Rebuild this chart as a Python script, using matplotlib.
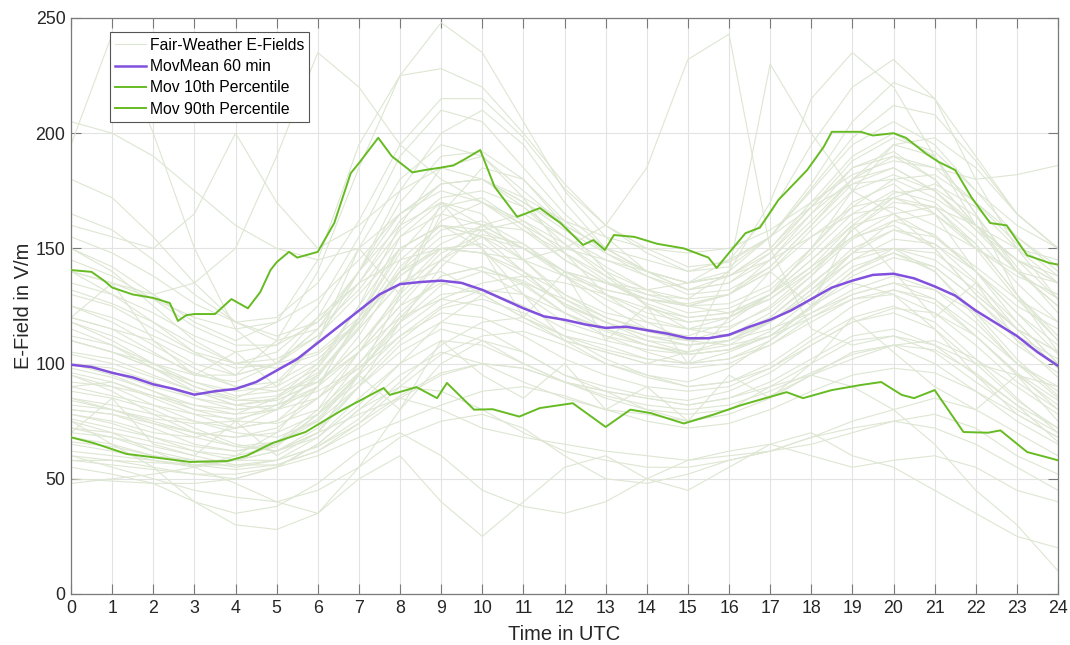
"""Fair-weather E-field daily curves with moving mean and percentiles."""

import matplotlib

matplotlib.use("Agg")
import matplotlib.pyplot as plt  # noqa: E402

FAIR = "#dde6d2"
PURPLE = "#8150dc"
GREEN = "#66bb22"
AXIS = "#7a7a7a"

plt.rcParams["font.family"] = ["Liberation Sans", "DejaVu Sans"]

# hourly samples (0..24 UTC) of the individual fair-weather days, V/m
hours = list(range(25))
fair_days = [
    [100, 95, 88, 80, 78, 85, 100, 125, 150, 160, 155, 140, 125, 118, 112, 110, 115, 125, 140, 155, 160, 150, 130, 115, 105],
    [85, 80, 75, 70, 68, 72, 85, 105, 125, 135, 130, 120, 110, 105, 100, 98, 100, 108, 120, 130, 135, 128, 115, 100, 90],
    [120, 115, 105, 95, 92, 100, 120, 150, 180, 195, 190, 175, 160, 150, 140, 135, 140, 155, 175, 195, 205, 195, 175, 155, 140],
    [70, 68, 62, 58, 55, 58, 68, 85, 100, 110, 108, 100, 92, 88, 85, 82, 85, 92, 102, 112, 115, 108, 95, 82, 72],
    [140, 130, 118, 105, 95, 100, 115, 140, 165, 175, 170, 158, 145, 135, 128, 125, 130, 145, 165, 185, 190, 180, 160, 140, 125],
    [90, 92, 85, 78, 72, 75, 90, 120, 155, 170, 165, 145, 128, 120, 115, 112, 118, 130, 150, 170, 178, 165, 140, 118, 100],
    [60, 58, 55, 52, 50, 55, 65, 80, 95, 105, 100, 92, 85, 80, 78, 75, 78, 85, 95, 105, 108, 100, 88, 75, 65],
    [110, 105, 98, 90, 85, 92, 110, 140, 175, 200, 210, 195, 170, 150, 140, 132, 138, 150, 170, 190, 200, 190, 165, 140, 125],
    [78, 75, 70, 68, 72, 80, 95, 115, 135, 145, 140, 130, 118, 112, 108, 105, 110, 120, 135, 148, 150, 140, 120, 100, 88],
    [130, 125, 115, 105, 100, 102, 112, 130, 150, 160, 155, 145, 138, 132, 128, 126, 130, 140, 155, 168, 172, 165, 150, 138, 130],
    [195, 243, 200, 150, 115, 100, 105, 120, 140, 150, 148, 140, 130, 122, 118, 115, 120, 130, 145, 160, 165, 155, 140, 125, 115],
    [95, 90, 82, 75, 70, 68, 75, 95, 130, 165, 185, 180, 160, 140, 125, 118, 120, 130, 150, 175, 195, 190, 165, 130, 105],
    [65, 62, 58, 55, 60, 70, 90, 120, 150, 160, 150, 130, 110, 100, 95, 92, 98, 110, 125, 135, 130, 115, 95, 78, 68],
    [150, 140, 125, 110, 100, 105, 120, 135, 145, 150, 148, 145, 150, 160, 185, 232, 243, 150, 115, 108, 112, 108, 100, 95, 90],
    [100, 98, 92, 85, 80, 82, 90, 105, 120, 128, 125, 118, 110, 105, 100, 105, 140, 230, 200, 175, 165, 150, 130, 115, 105],
    [120, 115, 110, 100, 95, 100, 115, 140, 160, 170, 160, 150, 140, 135, 130, 128, 140, 170, 215, 235, 220, 190, 160, 140, 125],
    [110, 105, 100, 95, 95, 110, 140, 185, 225, 248, 235, 205, 175, 155, 140, 135, 138, 148, 165, 180, 185, 175, 160, 145, 135],
    [160, 155, 150, 165, 200, 170, 150, 160, 175, 185, 180, 170, 160, 150, 145, 140, 145, 155, 168, 178, 180, 172, 160, 150, 145],
    [140, 135, 130, 135, 150, 190, 235, 220, 195, 180, 170, 160, 150, 145, 140, 135, 138, 145, 155, 165, 168, 160, 150, 140, 135],
    [55, 52, 48, 40, 35, 38, 48, 62, 70, 60, 45, 38, 35, 40, 50, 58, 62, 65, 60, 55, 58, 60, 55, 45, 40],
    [75, 70, 62, 55, 48, 40, 35, 50, 60, 40, 25, 40, 55, 60, 50, 45, 55, 65, 70, 60, 55, 45, 35, 25, 20],
    [80, 78, 72, 65, 62, 65, 75, 90, 105, 115, 110, 100, 92, 88, 85, 82, 85, 90, 95, 90, 80, 65, 45, 30, 10],
    [60, 55, 50, 45, 42, 40, 45, 55, 68, 75, 78, 72, 60, 50, 48, 52, 58, 62, 68, 72, 75, 72, 65, 55, 45],
    [105, 102, 95, 88, 82, 85, 95, 115, 135, 140, 130, 120, 112, 108, 102, 100, 105, 112, 125, 140, 148, 142, 128, 112, 102],
    [88, 85, 80, 72, 65, 62, 68, 82, 100, 118, 130, 135, 128, 118, 110, 105, 108, 118, 132, 145, 150, 145, 132, 115, 98],
    [125, 118, 108, 98, 90, 88, 92, 105, 125, 145, 160, 165, 155, 142, 132, 125, 122, 128, 140, 158, 172, 178, 168, 150, 135],
    [72, 70, 66, 62, 60, 64, 78, 100, 122, 138, 142, 135, 122, 112, 105, 100, 102, 110, 122, 132, 138, 132, 118, 100, 85],
    [165, 158, 145, 130, 118, 112, 118, 135, 158, 172, 175, 168, 155, 145, 138, 132, 135, 148, 168, 188, 198, 192, 175, 160, 150],
    [82, 80, 76, 74, 75, 82, 98, 125, 160, 185, 190, 172, 148, 130, 118, 110, 108, 112, 125, 140, 150, 148, 135, 118, 100],
    [115, 108, 98, 88, 82, 80, 85, 98, 115, 128, 135, 138, 135, 130, 124, 120, 122, 130, 142, 155, 165, 168, 160, 145, 128],
    [68, 65, 60, 56, 54, 56, 62, 72, 85, 95, 100, 98, 92, 85, 80, 78, 80, 86, 95, 102, 108, 110, 102, 90, 78],
    [180, 172, 155, 135, 118, 110, 115, 132, 155, 165, 160, 150, 140, 132, 128, 125, 130, 142, 160, 178, 185, 175, 158, 145, 138],
    [95, 88, 78, 70, 64, 62, 70, 90, 118, 142, 158, 162, 152, 138, 125, 115, 112, 118, 130, 148, 162, 165, 152, 130, 110],
    [50, 49, 48, 48, 50, 55, 65, 80, 90, 88, 80, 70, 62, 58, 55, 55, 58, 62, 68, 75, 80, 85, 80, 70, 60],
    [75, 65, 55, 40, 30, 28, 35, 55, 80, 100, 110, 105, 95, 88, 80, 75, 80, 90, 100, 110, 112, 105, 92, 80, 70],
    [135, 130, 122, 112, 105, 108, 125, 155, 190, 210, 205, 185, 165, 150, 140, 132, 135, 145, 162, 180, 190, 185, 170, 155, 142],
    [100, 96, 90, 85, 82, 84, 92, 108, 128, 145, 155, 150, 138, 125, 115, 110, 112, 122, 138, 158, 170, 168, 152, 130, 112],
    [62, 60, 58, 56, 58, 65, 78, 95, 112, 122, 120, 112, 102, 95, 90, 88, 90, 98, 110, 120, 125, 118, 102, 85, 70],
    [150, 142, 130, 118, 110, 118, 145, 195, 225, 228, 220, 200, 178, 160, 148, 140, 142, 155, 178, 205, 222, 215, 190, 165, 150],
    [118, 112, 104, 96, 90, 92, 102, 118, 138, 150, 148, 138, 126, 118, 112, 108, 110, 118, 132, 148, 158, 155, 142, 128, 118],
    [58, 56, 54, 52, 52, 55, 60, 68, 75, 82, 88, 90, 86, 80, 75, 72, 74, 80, 88, 95, 98, 96, 88, 78, 68],
    [110, 105, 98, 92, 88, 90, 100, 118, 140, 155, 158, 150, 140, 135, 132, 135, 145, 165, 195, 220, 232, 215, 180, 150, 128],
    [92, 90, 86, 82, 80, 82, 88, 98, 112, 125, 132, 130, 122, 115, 110, 108, 110, 115, 122, 130, 135, 132, 122, 108, 96],
    [140, 135, 128, 120, 115, 118, 128, 145, 165, 178, 180, 172, 162, 155, 150, 148, 150, 158, 170, 182, 188, 185, 180, 182, 186],
    [78, 74, 68, 62, 58, 58, 64, 76, 92, 108, 118, 120, 112, 102, 95, 90, 92, 100, 112, 125, 132, 128, 112, 95, 82],
    [205, 200, 190, 175, 160, 150, 145, 150, 165, 178, 180, 170, 158, 148, 140, 135, 138, 150, 168, 185, 192, 180, 160, 145, 135],
    [85, 82, 78, 75, 72, 75, 85, 100, 118, 130, 132, 125, 115, 110, 106, 104, 106, 112, 120, 128, 130, 122, 108, 92, 80],
    [48, 50, 52, 55, 58, 62, 70, 78, 85, 80, 72, 68, 65, 62, 60, 58, 60, 62, 65, 70, 75, 78, 72, 60, 52],
    [112, 108, 100, 92, 86, 88, 98, 120, 148, 168, 172, 160, 145, 135, 128, 122, 124, 132, 148, 165, 175, 170, 155, 135, 118],
    [76, 72, 68, 64, 62, 66, 80, 105, 132, 150, 152, 140, 125, 115, 108, 104, 106, 114, 128, 142, 148, 140, 122, 102, 86],
    [132, 126, 118, 108, 100, 98, 104, 118, 138, 152, 160, 158, 148, 138, 130, 125, 126, 134, 150, 168, 180, 182, 170, 152, 138],
    [66, 64, 60, 58, 58, 62, 72, 90, 108, 118, 115, 105, 95, 90, 86, 84, 88, 96, 108, 118, 122, 115, 100, 84, 72],
    [98, 94, 88, 82, 78, 80, 90, 112, 140, 162, 170, 162, 148, 136, 126, 120, 122, 130, 145, 162, 172, 168, 150, 128, 110],
    [145, 138, 128, 116, 108, 108, 118, 140, 170, 190, 192, 180, 162, 148, 138, 130, 132, 142, 160, 180, 195, 198, 185, 165, 150],
    [84, 80, 74, 68, 64, 66, 76, 96, 120, 138, 142, 134, 122, 114, 108, 104, 106, 112, 124, 138, 146, 142, 128, 110, 94],
    [104, 100, 94, 88, 84, 86, 96, 116, 142, 158, 162, 152, 138, 128, 120, 115, 116, 124, 138, 154, 162, 156, 140, 122, 108],
    [72, 68, 64, 60, 56, 56, 62, 74, 90, 104, 112, 114, 108, 100, 94, 90, 92, 98, 108, 118, 124, 122, 112, 96, 80],
    [125, 120, 112, 104, 98, 100, 112, 135, 162, 178, 180, 168, 152, 140, 132, 128, 130, 140, 158, 175, 182, 175, 158, 140, 128],
    [90, 86, 82, 78, 76, 80, 94, 118, 145, 160, 158, 145, 130, 120, 114, 110, 112, 120, 134, 150, 158, 152, 136, 115, 98],
    [58, 58, 57, 56, 56, 58, 64, 74, 86, 96, 100, 98, 92, 86, 82, 80, 82, 88, 96, 104, 108, 106, 96, 82, 66],
    [118, 110, 100, 90, 84, 84, 92, 108, 130, 148, 156, 152, 140, 130, 122, 118, 120, 128, 142, 160, 174, 176, 164, 142, 122],
    [80, 78, 74, 70, 68, 70, 78, 92, 110, 124, 128, 122, 112, 106, 102, 100, 102, 108, 118, 128, 132, 126, 112, 96, 84],
    [155, 148, 138, 126, 118, 120, 135, 162, 195, 215, 215, 198, 176, 160, 150, 142, 144, 155, 176, 198, 212, 208, 188, 165, 150],
    [96, 92, 86, 80, 75, 74, 80, 96, 118, 134, 140, 136, 126, 118, 112, 108, 110, 118, 130, 145, 154, 152, 140, 122, 104],
    [120, 135, 110, 95, 105, 90, 110, 150, 130, 170, 150, 120, 140, 110, 125, 100, 120, 140, 125, 160, 140, 120, 135, 110, 100],
    [70, 85, 65, 60, 75, 60, 70, 95, 80, 110, 95, 85, 100, 80, 90, 75, 95, 85, 100, 120, 105, 90, 80, 95, 75],
]

# 60-minute moving mean, half-hourly read-out
mean_t = [i / 2 for i in range(49)]
mean_v = [99.5, 98.5, 96, 94, 91, 89, 86.5, 88, 89, 92, 97, 102, 109, 116, 123, 130, 134.5,
          135.4, 136, 135, 132, 128, 124, 120.5, 119, 117, 115.5, 116, 114.5, 113, 111, 111,
          112.5, 116, 119, 123, 128, 133, 136, 138.5, 139, 137, 133.5, 129.5, 123, 117.5,
          112, 105, 99]

# moving 90th percentile
p90_t = [0, 0.5, 0.8, 1.0, 1.5, 2.0, 2.4, 2.6, 2.8, 3.0, 3.5, 3.9, 4.3, 4.6, 4.85, 5.0,
         5.3, 5.5, 5.7, 6.0, 6.4, 6.8, 7.0, 7.47, 7.8, 8.3, 8.6, 8.97, 9.3, 9.6, 9.95, 10.3,
         10.85, 11.4, 11.9, 12.45, 12.7, 12.98, 13.2, 13.7, 14.25, 14.9, 15.2, 15.5, 15.7,
         15.95, 16.4, 16.75, 17.2, 17.9, 18.3, 18.5, 19.2, 19.5, 20.0, 20.3, 20.8, 21.1,
         21.5, 21.9, 22.35, 22.75, 23.25, 23.8, 24]
p90_v = [140.6, 139.8, 136, 133, 130, 128.5, 126.3, 118.5, 121, 121.5, 121.5, 128, 124,
         131, 140.6, 144, 148.5, 146, 147, 148.5, 161, 182.6, 187, 198, 190, 183, 184,
         185, 186, 189, 192.7, 176.7, 163.7, 167.5, 161, 151.5, 153.6, 149.3, 155.8, 155,
         152, 150, 148, 146, 141.5, 147, 156.6, 159, 171, 184, 194, 200.6, 200.6, 199, 200,
         198, 191, 187.5, 184, 172, 161, 160, 147, 143.6, 143]

# moving 10th percentile
p10_t = [0, 0.55, 1.35, 2.15, 2.9, 3.8, 4.27, 4.9, 5.7, 6.6, 7.6, 7.75, 8.4, 8.9, 9.14,
         9.8, 10.25, 10.9, 11.4, 12.2, 13.0, 13.6, 14.1, 14.9, 15.6, 16.3, 17.4, 17.8, 18.5,
         19.2, 19.7, 20.2, 20.5, 21.0, 21.7, 22.3, 22.6, 23.25, 23.8, 24]
p10_v = [68, 65.5, 60.8, 59, 57.3, 57.7, 60, 65.5, 70.3, 79.9, 89.4, 86.4, 89.8, 85, 91.6,
         80, 80.2, 77, 80.7, 82.8, 72.5, 80, 78.5, 74, 77.7, 82, 87.6, 85, 88.5, 90.7, 92,
         86.4, 85, 88.5, 70.3, 70, 71, 61.6, 59, 58]

fig = plt.figure(figsize=(10.7, 6.45), dpi=100)
ax = fig.add_axes([0.0664, 0.0791, 0.9224, 0.893])

for k, day in enumerate(fair_days):
    ax.plot(hours, day, color=FAIR, lw=0.8, zorder=2,
            label="Fair-Weather E-Fields" if k == 0 else None)
ax.plot(mean_t, mean_v, color=PURPLE, lw=1.8, zorder=4, label="MovMean 60 min")
ax.plot(p10_t, p10_v, color=GREEN, lw=1.4, zorder=3, label="Mov 10th Percentile")
ax.plot(p90_t, p90_v, color=GREEN, lw=1.4, zorder=3, label="Mov 90th Percentile")

ax.set_xlim(0, 24)
ax.set_ylim(0, 250)
ax.set_xticks(range(25))
ax.set_yticks(range(0, 251, 50))
ax.grid(True, color="#e3e3e3", lw=0.8, zorder=0)
ax.set_axisbelow(True)
ax.tick_params(direction="in", length=7, width=0.8, color=AXIS, labelsize=12.8,
               labelcolor="#262626", top=True, right=True, pad=4)
for sp in ax.spines.values():
    sp.set_color(AXIS)
    sp.set_linewidth(0.9)

ax.set_xlabel("Time in UTC", fontsize=14.5, color="#262626", labelpad=6)
ax.set_ylabel("E-Field in V/m", fontsize=14.5, color="#262626", labelpad=2)

leg = ax.legend(loc="upper left", bbox_to_anchor=(0.039, 0.975), fontsize=11.3,
                handlelength=2.0, handletextpad=0.2, borderpad=0.35, labelspacing=0.4,
                fancybox=False, framealpha=1, edgecolor="#555555", borderaxespad=0)
leg.get_frame().set_linewidth(0.8)

fig.savefig("out.png", dpi=100, facecolor="white")
